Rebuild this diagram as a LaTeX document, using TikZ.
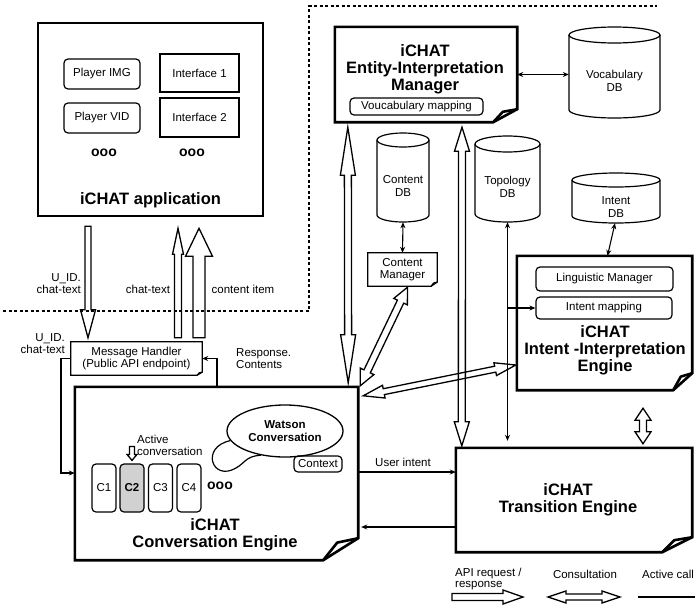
\documentclass[tikz,border=0pt]{standalone}
\usepackage{fontspec}
\setmainfont{Liberation Sans}
\usetikzlibrary{calc,arrows.meta,shapes.geometric}

\newcommand\fsmall{\fontsize{11.5}{12.5}\selectfont}
\newcommand\ftitle{\fontsize{16.5}{17.2}\selectfont\bfseries}

% single hollow arrow: from, to, shaft half width, head half width, head length
\newcommand\hollowS[5]{%
  \path (#1) coordinate (hA) (#2) coordinate (hB);
  \path ($(hB)!#5!(hA)$) coordinate (hH);
  \draw[hollow] ($(hA)!#3!90:(hB)$) -- ($(hH)!#3!90:(hB)$) -- ($(hH)!#4!90:(hB)$) -- (hB)
     -- ($(hH)!#4!-90:(hB)$) -- ($(hH)!#3!-90:(hB)$) -- ($(hA)!#3!-90:(hB)$) -- cycle;
}
% double hollow arrow
\newcommand\hollowD[5]{%
  \path (#1) coordinate (hA) (#2) coordinate (hB);
  \path ($(hA)!#5!(hB)$) coordinate (hHa) ($(hB)!#5!(hA)$) coordinate (hHb);
  \draw[hollow] (hA) -- ($(hHa)!#4!90:(hB)$) -- ($(hHa)!#3!90:(hB)$) -- ($(hHb)!#3!90:(hB)$)
     -- ($(hHb)!#4!90:(hB)$) -- (hB) -- ($(hHb)!#4!-90:(hB)$) -- ($(hHb)!#3!-90:(hB)$)
     -- ($(hHa)!#3!-90:(hB)$) -- ($(hHa)!#4!-90:(hB)$) -- cycle;
}
% note outline with folded corner: name, dx, dy, line width
\newcommand\notebox[4]{%
  \draw[line width=#4, line join=miter] (#1.north west) -- (#1.north east) -- ($(#1.south east)+(0,-#3)$)
     -- ($(#1.south east)+(-#2,0)$) -- (#1.south west) -- cycle;
  \draw[line width=#4, line join=round] ($(#1.south east)+(0,-#3)$) -- ($(#1.south east)+(-0.6*#2,-0.8*#3)$)
     -- ($(#1.south east)+(-#2,0)$);
}
% cylinder: name, cx, ytop, ybottom, half width, ry
\newcommand\dbcyl[6]{%
  \pgfmathsetmacro\cylT{#3+#6}\pgfmathsetmacro\cylB{#4-#6}
  \draw[cylline] (#2-#5,\cylT) -- (#2-#5,\cylB) arc[start angle=180,end angle=0,x radius=#5,y radius=#6] -- (#2+#5,\cylT);
  \draw[cylline] (#2,\cylT) ellipse[x radius=#5,y radius=#6];
  \node[inner sep=0pt, minimum width={2*#5}, minimum height={#4-#3}] (#1) at (#2,{(#3+#4)/2}) {};
}

\begin{document}
\begin{tikzpicture}[x=1pt,y=-1pt,
  thickbox/.style={draw, line width=2.6pt, inner sep=0pt},
  plainnode/.style={inner sep=0pt},
  smallbox/.style={draw, line width=1.2pt, inner sep=0pt, font=\fsmall},
  rbox/.style={smallbox, rounded corners=4pt},
  cylline/.style={line width=1.2pt},
  hollow/.style={draw, line width=1.3pt, line join=miter},
  arr/.style={line width=1.1pt, -{Stealth[length=6pt,width=5pt]}},
  darr/.style={line width=1.1pt, {Stealth[length=6pt,width=5pt]}-{Stealth[length=6pt,width=5pt]}},
  dots/.style={line width=1.3pt, dash pattern=on 3pt off 2.5pt},
  lbl/.style={font=\fsmall, inner sep=0pt},
  title/.style={font=\ftitle, align=center, inner sep=0pt},
  ooo/.style={font=\fontsize{14}{14}\selectfont\bfseries, inner sep=0pt}]

\useasboundingbox (0,0) rectangle (695,605);

% ---------------- dotted boundary ----------------
\draw[dots] (3,311) -- (309,311) -- (309,6) -- (657,6);

% ---------------- iCHAT application ----------------
\node[thickbox, minimum width=225, minimum height=193] (app) at (150.5,119.5) {};
\node[rbox, minimum width=76, minimum height=30] (pimg) at (102,74) {Player IMG};
\node[rbox, minimum width=76, minimum height=30] (pvid) at (102,118) {Player VID};
\node[smallbox, minimum width=79, minimum height=38] (if1) at (199.5,73) {Interface 1};
\node[smallbox, minimum width=79, minimum height=39] (if2) at (199.5,117.5) {Interface 2};
\node[ooo] (oooa) at (104,153) {ooo};
\node[ooo] (ooob) at (192,153) {ooo};
\node[title] (apptitle) at (150.5,200) {iCHAT application};

% ---------------- Entity-Interpretation Manager ----------------
\node[plainnode, minimum width=182, minimum height=95] (eim) at (426,74.5) {};
\notebox{eim}{24}{13}{2.6pt}
\node[title] (eimt) at (425,69) {iCHAT\\Entity-Interpretation\\Manager};
\node[rbox, minimum width=133, minimum height=17] (vmap) at (416.5,106.5) {Voucabulary mapping};

% ---------------- databases ----------------
\dbcyl{vdb}{614.5}{27}{118}{45.5}{8}
\node[lbl, align=center] (vdbt) at (614.5,81) {Vocabulary\\DB};
\dbcyl{cdb}{403}{133}{222}{26}{7}
\node[lbl, align=center] (cdbt) at (403,186) {Content\\DB};
\dbcyl{tdb}{507.5}{136}{222}{32.5}{8}
\node[lbl, align=center] (tdbt) at (507.5,187) {Topology\\DB};
\dbcyl{idb}{616}{173}{223}{44}{7}
\node[lbl, align=center] (idbt) at (616,207) {Intent\\DB};

% ---------------- Content Manager ----------------
\node[plainnode, minimum width=69, minimum height=33, font=\fsmall, align=center] (cm) at (402.5,269.5) {Content\\Manager};
\notebox{cm}{6}{4}{1.2pt}

% ---------------- Intent-Interpretation Engine ----------------
\node[plainnode, minimum width=175, minimum height=134] (ie) at (604.5,323) {};
\notebox{ie}{19}{17}{2.6pt}
\node[rbox, minimum width=137, minimum height=24] (lm) at (604.5,279) {Linguistic Manager};
\node[rbox, minimum width=136, minimum height=22] (im) at (604,308) {Intent mapping};
\node[title] (iet) at (605,350) {iCHAT\\Intent -Interpretation\\Engine};

% ---------------- Message Handler ----------------
\node[plainnode, minimum width=131, minimum height=33, font=\fsmall, align=center] (mh) at (136.5,358.5) {Message Handler\\(Public API endpoint)};
\notebox{mh}{5}{3}{1.2pt}

% ---------------- Conversation Engine ----------------
\node[plainnode, minimum width=283, minimum height=173] (ce) at (216.5,473.5) {};
\notebox{ce}{35}{22}{2.6pt}
\node[ellipse, draw, line width=1.3pt, minimum width=116, minimum height=52, inner sep=0pt,
      font=\fsmall\bfseries, align=center] (wat) at (285,431) {Watson\\Conversation};
\node[rbox, minimum width=48, minimum height=16] (ctx) at (318,464) {Context};
\node[rbox, minimum width=24, minimum height=48] (c1) at (104,488) {C1};
\node[rbox, minimum width=24, minimum height=48, fill=black!18, font=\fsmall\bfseries] (c2) at (132,488) {C2};
\node[rbox, minimum width=24, minimum height=48] (c3) at (160.5,488) {C3};
\node[rbox, minimum width=24, minimum height=48] (c4) at (189,488) {C4};
\node[ooo] (oooc) at (220,486) {ooo};
\node[lbl, anchor=west, align=left] (actv) at (137,445.5) {Active\\conversation};
\node[title] (cet) at (215,534.5) {iCHAT\\Conversation Engine};
\draw[line width=1.2pt] (wat.190) .. controls (200,447) and (212,482) .. (236,468) .. controls (245,463) and (246,456) .. (wat.225);
\hollowS{$(c2.north)+(0,-17)$}{$(c2.north)+(0,-3)$}{2.5pt}{5pt}{6pt}

% ---------------- Transition Engine ----------------
\node[plainnode, minimum width=236, minimum height=104] (te) at (574,500) {};
\notebox{te}{30}{15}{2.6pt}
\node[title] (tet) at (568,500) {iCHAT\\Transition Engine};

% ---------------- thin connectors ----------------
\coordinate (uic) at (0,472);
\coordinate (rtc) at (0,527);
\coordinate (mhx) at (217,0);
\coordinate (lx) at (61,473);
\draw[darr] (eim.east) -- (eim.east -| vdb.west);
\draw[darr] (cdb.south) -- (cm.north);
\draw[darr] ($(idb.south)+(-1,0)$) -- ($(ie.north)+(3,0)$);
\draw[darr] (tdb.south) -- ($(tdb.south |- te.north)+(0,-7)$);
\draw[arr] (im.west -| tdb.south) -- (im.west);
\draw[arr] (ce.east |- uic) -- (te.west |- uic);
\draw[arr] (te.west |- rtc) -- ($(ce.east |- rtc)+(3,0)$);
\draw[arr] (ce.north -| mhx) |- (mh.east);
\draw[arr] (mh.west) -| (lx) -- (ce.west |- lx);

% ---------------- hollow arrows ----------------
\hollowS{$(app.south)+(-62.5,9)$}{$(mh.north)+(-48.5,-4)$}{3pt}{7.5pt}{28pt}
\hollowS{$(mh.north)+(41.5,-4)$}{$(app.south)+(27.5,11)$}{3.5pt}{5.5pt}{26pt}
\hollowS{$(mh.north)+(62.5,-4)$}{$(app.south)+(48.5,11)$}{6pt}{13.5pt}{28pt}
\hollowD{$(eim.south west)+(13,5)$}{$(ce.north east)+(-10,-4)$}{3.5pt}{7.5pt}{48pt}
\hollowD{$(eim.south)+(36,5)$}{$(te.north west)+(6,-2)$}{3.5pt}{7.5pt}{24pt}
\hollowD{$(cm.south)+(5,1)$}{$(ce.north east)+(2,-1)$}{3.5pt}{7.5pt}{16pt}
\hollowD{$(ce.north east)+(5,9)$}{$(ie.west)+(-1,42)$}{3pt}{6.5pt}{21pt}
\hollowD{$(ie.south)+(38.5,18)$}{$(te.north)+(69,-4)$}{3.5pt}{8pt}{12pt}

% ---------------- labels ----------------
\node[lbl, anchor=east, align=right] (l1) at (81,283.5) {U\_ID.\\chat-text};
\node[lbl, anchor=east, align=right] (l2) at (65,343.5) {U\_ID.\\chat-text};
\node[lbl] (l3) at (148,289) {chat-text};
\node[lbl] (l4) at (243,289) {content item};
\node[lbl, anchor=west, align=left] (l5) at (236,358.5) {Response.\\Contents};
\node[lbl] (l6) at (403,462) {User intent};

% ---------------- legend ----------------
\node[lbl, anchor=west, align=left, font=\fontsize{11.5}{11}\selectfont] (lg1) at (455,579) {API request /\\response};
\node[lbl] (lg2) at (585,574) {Consultation};
\node[lbl, anchor=west] (lg3) at (642,574) {Active call};
\coordinate (la1) at (452,597);
\coordinate (la2) at (523,597);
\coordinate (lb1) at (548,597);
\coordinate (lb2) at (620,597);
\coordinate (lc1) at (638,597);
\coordinate (lc2) at (695,597);
\hollowS{la1}{la2}{3.5pt}{7pt}{20pt}
\hollowD{lb1}{lb2}{3pt}{6pt}{18pt}
\draw[line width=1.1pt] (lc1) -- (lc2);
\end{tikzpicture}
\end{document}
